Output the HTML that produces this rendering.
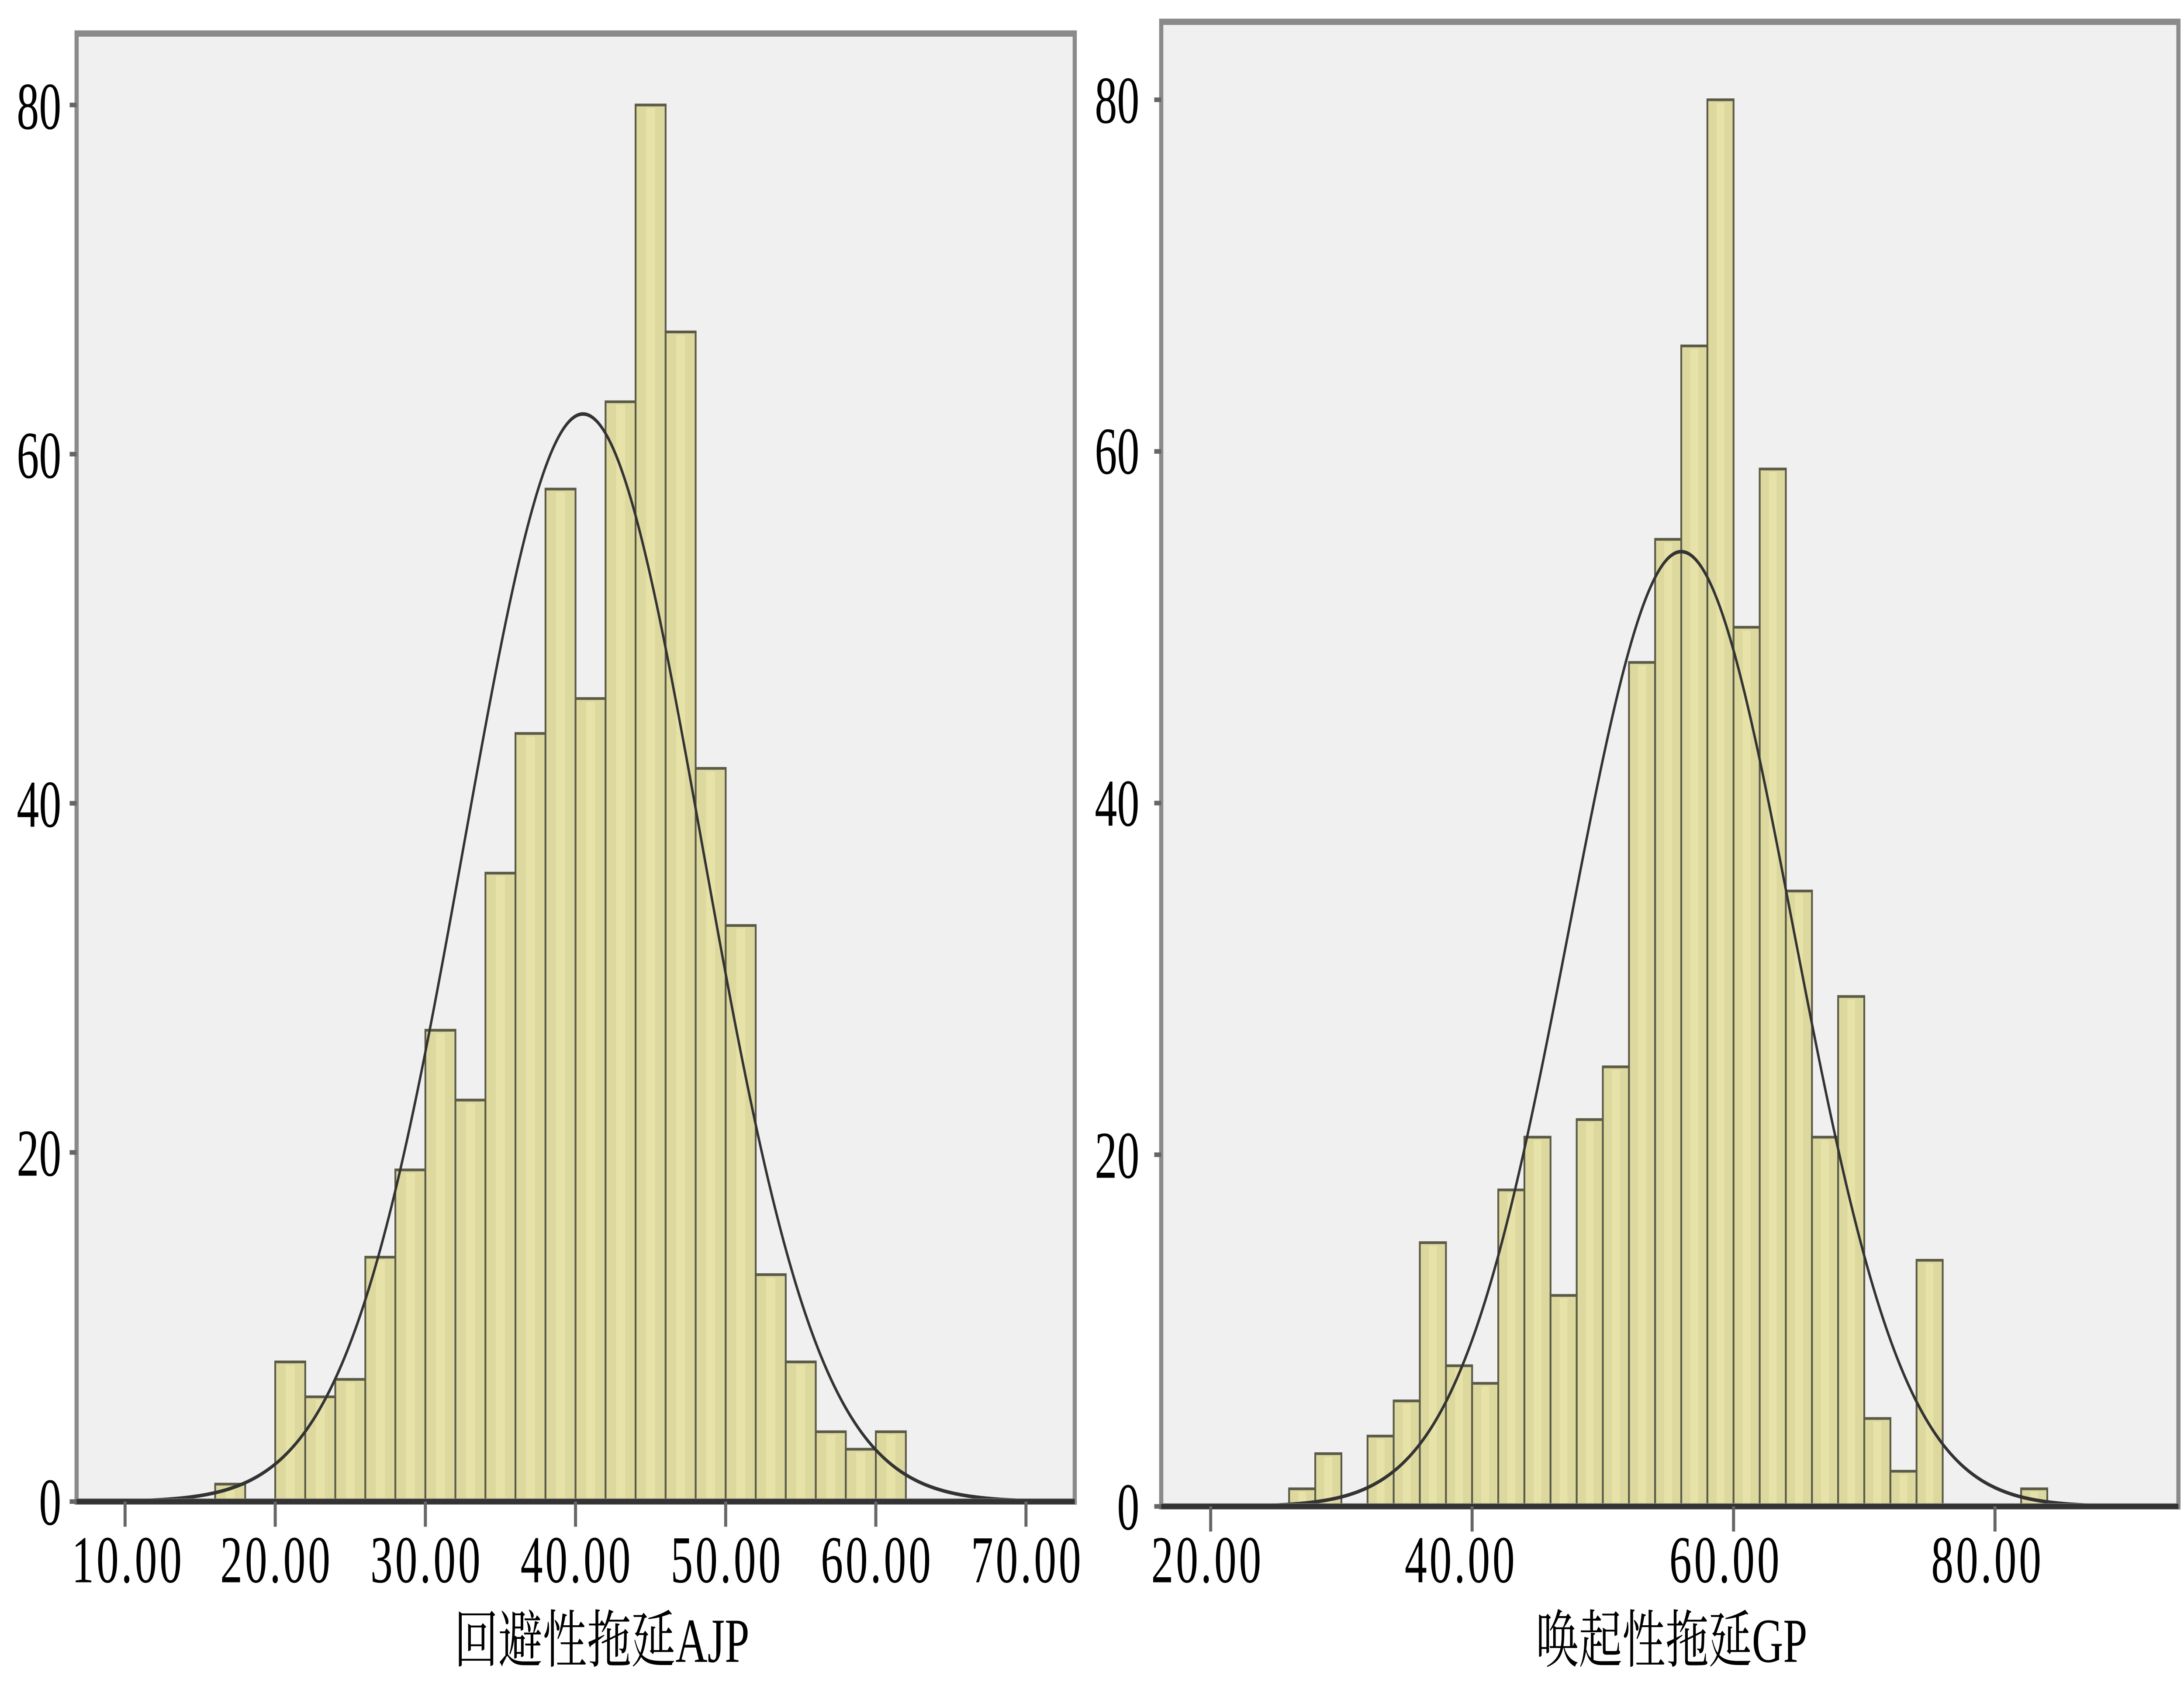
<!DOCTYPE html>
<html><head><meta charset="utf-8">
<style>html,body{margin:0;padding:0;background:#fff;overflow:hidden;width:100vw;height:100vh;}svg{display:block;width:100vw;height:100vh;}</style>
</head><body>
<svg id="s" viewBox="0 0 1568 804.5" preserveAspectRatio="none" xmlns="http://www.w3.org/2000/svg">
<rect x="0" y="0" width="1568" height="804.5" fill="#fff"/>
<rect x="56.5" y="17.5" width="713.5" height="698" fill="#f0f0f0"/>
<g id="L"></g>
<rect x="55" y="16" width="716.6" height="700.5" fill="none" stroke="#8a8a8a" stroke-width="3"/>
<line x1="55" y1="716.5" x2="771.6" y2="716.5" stroke="#333" stroke-width="2.5"/>
<rect x="835.2" y="11.9" width="727.3" height="705.4" fill="#f0f0f0"/>
<g id="R"></g>
<rect x="833.7" y="10.4" width="730.3" height="708.4" fill="none" stroke="#8a8a8a" stroke-width="3"/>
<line x1="833.7" y1="718.8" x2="1564" y2="718.8" stroke="#333" stroke-width="2.5"/>
<g font-family="'Liberation Serif','Noto Serif CJK SC',serif" font-size="32" fill="#000">
<text x="44" y="727.5" text-anchor="end">0</text>
<text x="44" y="561" text-anchor="end">20</text>
<text x="44" y="394.5" text-anchor="end">40</text>
<text x="44" y="228" text-anchor="end">60</text>
<text x="44" y="61.5" text-anchor="end">80</text>
<text x="818" y="729.8" text-anchor="end">0</text>
<text x="818" y="562" text-anchor="end">20</text>
<text x="818" y="394" text-anchor="end">40</text>
<text x="818" y="226" text-anchor="end">60</text>
<text x="818" y="58.6" text-anchor="end">80</text>
<text x="91" y="755" text-anchor="middle" textLength="79">10.00</text>
<text x="197.6" y="755" text-anchor="middle" textLength="79">20.00</text>
<text x="305.4" y="755" text-anchor="middle" textLength="79">30.00</text>
<text x="413.2" y="755" text-anchor="middle" textLength="79">40.00</text>
<text x="521" y="755" text-anchor="middle" textLength="79">50.00</text>
<text x="628.8" y="755" text-anchor="middle" textLength="79">60.00</text>
<text x="736.6" y="755" text-anchor="middle" textLength="79">70.00</text>
<text x="866" y="755" text-anchor="middle" textLength="79">20.00</text>
<text x="1048" y="755" text-anchor="middle" textLength="79">40.00</text>
<text x="1238" y="755" text-anchor="middle" textLength="79">60.00</text>
<text x="1426" y="755" text-anchor="middle" textLength="79">80.00</text>
</g>
<g font-family="'Liberation Serif','Noto Serif CJK SC',serif" font-size="30" fill="#000">
<text x="432" y="793" text-anchor="middle" textLength="212" lengthAdjust="spacingAndGlyphs">回避性拖延AJP</text>
<text x="1200" y="793" text-anchor="middle" textLength="195" lengthAdjust="spacingAndGlyphs">唤起性拖延GP</text>
</g>
<g id="T" stroke="#666" stroke-width="2.2"></g>
</svg>
<script>
(function(){
var NS="http://www.w3.org/2000/svg";
function el(p,n,a){var e=document.createElementNS(NS,n);for(var k in a)e.setAttribute(k,a[k]);p.appendChild(e);return e;}
function panel(g,x0,xs,base,ys,start,counts,mu,sd,peak,xl,xr,ticks,yticks,ytx){
  for(var i=0;i<counts.length;i++){var c=counts[i];if(!c)continue;
    var v=start+2*i,xa=x0+(v-20)*xs,w=2*xs,h=c*ys;
    el(g,"rect",{x:xa,y:base-h,width:w,height:h,fill:"#dcd89e",stroke:"#5a5a48","stroke-width":1.3});
    el(g,"rect",{x:xa+w*0.35,y:base-h+1.5,width:w*0.3,height:Math.max(h-2,0),fill:"#e6e2a8"});
  }
  var d="";
  for(var X=xl;X<=xr;X+=1){var v=20+(X-x0)/xs;var y=base-peak*ys*Math.exp(-0.5*Math.pow((v-mu)/sd,2));d+=(d?"L":"M")+X.toFixed(1)+","+y.toFixed(2);}
  el(g,"path",{d:d,fill:"none",stroke:"#333","stroke-width":1.7});
  var T=document.getElementById("T");
  ticks.forEach(function(v){var X=x0+(v-20)*xs;el(T,"line",{x1:X,y1:base,x2:X,y2:base+12});});
  yticks.forEach(function(c){var Y=base-c*ys;el(T,"line",{x1:ytx-5,y1:Y,x2:ytx,y2:Y});});
}
panel(document.getElementById("L"),197.6,10.78,716.5,8.33,16,
 [1,0,8,6,7,14,19,27,23,36,44,58,46,63,80,67,42,33,13,8,4,3,4],
 40.5,7.9,62.3,57,770,[10,20,30,40,50,60,70],[0,20,40,60,80],55);
panel(document.getElementById("R"),869.2,9.385,718.8,8.39,26,
 [1,3,0,4,6,15,8,7,18,21,12,22,25,48,55,66,80,50,59,35,21,29,5,2,14,0,0,0,1],
 56.0,8.56,54.3,836,1562,[20,40,60,80],[0,20,40,60,80],833.7);
})();
</script>
</body></html>
